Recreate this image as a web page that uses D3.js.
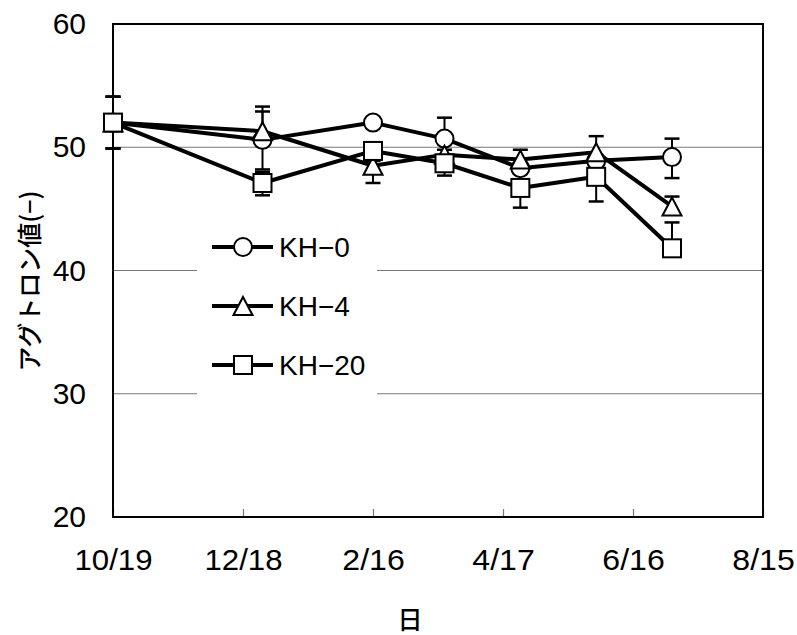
<!DOCTYPE html>
<html>
<head>
<meta charset="utf-8">
<script src="https://cdn.jsdelivr.net/npm/d3@7"></script>
<style>
  body { margin: 0; background: #fff; }
</style>
</head>
<body>
<svg width="797" height="635"></svg>
<script>
// sampling dates and values
var dates = ["2006-10-19", "2006-12-27", "2007-02-16", "2007-03-21", "2007-04-25", "2007-05-30", "2007-07-04"];
var kh0 = [52.0, 50.6, 52.0, 50.7, 48.3, 48.9, 49.2];
var kh0Up = [2.1, 2.3, 0.4, 1.7, 0.4, 0.4, 1.5];
var kh0Down = [2.1, 2.4, 0.4, 0.4, 0.4, 0.4, 1.7];
var kh4 = [52.0, 51.3, 48.5, 49.4, 49.0, 49.6, 45.2];
var kh4Up = [2.1, 2.0, 0.4, 0.4, 0.8, 1.3, 0.8];
var kh4Down = [2.1, 0.5, 1.4, 0.4, 0.4, 0.4, 0];
var kh20 = [52.0, 47.1, 49.7, 48.7, 46.7, 47.6, 41.8];
var kh20Up = [2.1, 0.9, 0.7, 0.4, 0.4, 0.4, 2.1];
var kh20Down = [2.1, 1.0, 0.4, 1.0, 1.6, 2.0, 0];
var seriesNames = ["KH-0", "KH-4", "KH-20"];
var markerTypes = ["circle", "triangle", "square"];
var tickDates = ["2006-10-19", "2006-12-18", "2007-02-16", "2007-04-17", "2007-06-16", "2007-08-15"];
var tickLabels = ["10/19", "12/18", "2/16", "4/17", "6/16", "8/15"];
var yTicks = [20, 30, 40, 50, 60];
var gridValues = [30, 40, 50];

var parse = d3.utcParse("%Y-%m-%d");
var svg = d3.select("svg");

var pLeft = 113, pRight = 763, pTop = 24, pBottom = 517;

var xScale = d3.scaleUtc()
  .domain([parse(tickDates[0]), parse(tickDates[tickDates.length - 1])])
  .range([pLeft, pRight]);
var yScale = d3.scaleLinear().domain([20, 60]).range([pBottom, pTop]);

// grid
svg.append("g").selectAll("line")
  .data(gridValues)
  .enter().append("line")
  .attr("x1", pLeft).attr("x2", pRight)
  .attr("y1", function (d) { return yScale(d); })
  .attr("y2", function (d) { return yScale(d); })
  .attr("stroke", "#777")
  .attr("stroke-width", 1.2);

// x axis, ticks pointing inward
var xAxis = d3.axisBottom(xScale)
  .tickValues(tickDates.map(parse))
  .tickFormat(function (d, i) { return tickLabels[i]; })
  .tickSizeInner(-8).tickSizeOuter(0).tickPadding(32);
var xg = svg.append("g").attr("transform", "translate(0," + pBottom + ")").call(xAxis);
xg.select(".domain").remove();
xg.selectAll("line").attr("stroke", "#777").attr("stroke-width", 1.2);
xg.selectAll("text")
  .attr("fill", "#000")
  .style("font-family", "'Liberation Sans', Arial, sans-serif")
  .style("font-size", "30px")
  .attr("textLength", function (d, i) { return tickLabels[i].length * 15.6; })
  .attr("lengthAdjust", "spacingAndGlyphs");

// y axis
var yAxis = d3.axisLeft(yScale).tickValues(yTicks).tickSize(0).tickPadding(27);
var yg = svg.append("g").attr("transform", "translate(" + pLeft + ",0)").call(yAxis);
yg.select(".domain").remove();
yg.selectAll("text")
  .attr("fill", "#000")
  .style("font-family", "'Liberation Sans', Arial, sans-serif")
  .style("font-size", "30px");

// frame
svg.append("rect")
  .attr("x", pLeft).attr("y", pTop)
  .attr("width", pRight - pLeft).attr("height", pBottom - pTop)
  .attr("fill", "none").attr("stroke", "#000").attr("stroke-width", 2);

function drawMarker(g, type, x, y) {
  if (type == "circle") {
    g.append("circle").attr("cx", x).attr("cy", y).attr("r", 9)
      .attr("fill", "#fff").attr("stroke", "#000").attr("stroke-width", 2);
  } else if (type == "square") {
    g.append("rect").attr("x", x - 9).attr("y", y - 9).attr("width", 18).attr("height", 18)
      .attr("fill", "#fff").attr("stroke", "#000").attr("stroke-width", 2);
  } else {
    g.append("path")
      .attr("d", "M" + x + "," + (y - 9) + "L" + (x + 9.5) + "," + (y + 9) + "L" + (x - 9.5) + "," + (y + 9) + "Z")
      .attr("fill", "#fff").attr("stroke", "#000").attr("stroke-width", 2)
      .attr("stroke-linejoin", "miter");
  }
}

var allValues = [kh0, kh4, kh20];
var allUp = [kh0Up, kh4Up, kh20Up];
var allDown = [kh0Down, kh4Down, kh20Down];

var line = d3.line()
  .x(function (d) { return xScale(parse(d.date)); })
  .y(function (d) { return yScale(d.value); });

allValues.forEach(function (values, s) {
  var data = values.map(function (v, i) {
    return { date: dates[i], value: v, up: allUp[s][i], down: allDown[s][i] };
  });
  var g = svg.append("g");

  g.append("path")
    .attr("d", line(data))
    .attr("fill", "none")
    .attr("stroke", "#000")
    .attr("stroke-width", 4)
    .attr("stroke-linejoin", "round");

  data.forEach(function (d) {
    var x = xScale(parse(d.date));
    var yMid = yScale(d.value);
    [d.value - d.down, d.value + d.up].forEach(function (v) {
      if (v == d.value) return;
      var yy = yScale(v);
      g.append("line").attr("x1", x).attr("x2", x).attr("y1", yMid).attr("y2", yy)
        .attr("stroke", "#000").attr("stroke-width", 2);
      g.append("line").attr("x1", x - 7.5).attr("x2", x + 7.5).attr("y1", yy).attr("y2", yy)
        .attr("stroke", "#000").attr("stroke-width", 2.5);
    });
  });

  data.forEach(function (d) {
    drawMarker(g, markerTypes[s], xScale(parse(d.date)), yScale(d.value));
  });
});

// legend
var lg = svg.append("g");
lg.append("rect").attr("x", 197).attr("y", 222).attr("width", 180).attr("height", 175)
  .attr("fill", "#fff");
seriesNames.forEach(function (name, i) {
  var y = 247 + i * 59;
  lg.append("line").attr("x1", 212).attr("x2", 273).attr("y1", y).attr("y2", y)
    .attr("stroke", "#000").attr("stroke-width", 4);
  drawMarker(lg, markerTypes[i], 243, y);
  lg.append("text").attr("x", 279).attr("y", y + 10)
    .style("font-family", "'Liberation Sans', Arial, sans-serif")
    .style("font-size", "28px")
    .text(name.replace("-", "\u2212"));
});

// axis titles
svg.append("text")
  .attr("transform", "translate(39,281) rotate(-90)")
  .attr("text-anchor", "middle")
  .style("font-family", "'Noto Sans CJK JP', sans-serif")
  .style("font-size", "25px")
  .style("font-weight", "500")
  .text("アグトロン値(−)");

svg.append("text")
  .attr("x", 410).attr("y", 629)
  .attr("text-anchor", "middle")
  .style("font-family", "'Noto Sans CJK JP', sans-serif")
  .style("font-size", "25px")
  .style("font-weight", "500")
  .text("日");
</script>
</body>
</html>
